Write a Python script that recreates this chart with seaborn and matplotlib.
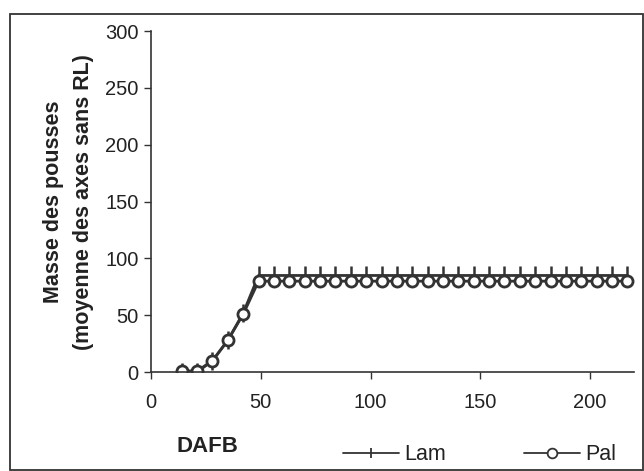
import numpy as np
import pandas as pd
import matplotlib
matplotlib.use("Agg")
import matplotlib.pyplot as plt
import seaborn as sns

# days after full bloom, sampled weekly
dafb = [14, 21, 28, 35, 42, 49, 56, 63, 70, 77, 84, 91, 98, 105, 112, 119, 126,
        133, 140, 147, 154, 161, 168, 175, 182, 189, 196, 203, 210, 217]
lam = [0, 0, 10, 28, 52, 85, 85, 85, 85, 85, 85, 85, 85, 85, 85, 85, 85,
       85, 85, 85, 85, 85, 85, 85, 85, 85, 85, 85, 85, 85]
pal = [1, 1, 10, 28, 51, 80, 80, 80, 80, 80, 80, 80, 80, 80, 80, 80, 80,
       80, 80, 80, 80, 80, 80, 80, 80, 80, 80, 80, 80, 80]

df = pd.DataFrame({"DAFB": dafb, "Lam": lam, "Pal": pal})

sns.set_style("white")
plt.rcParams["font.family"] = ["Liberation Sans", "DejaVu Sans"]

ink = "#333333"
fig = plt.figure(figsize=(6.44, 4.71), dpi=100)
ax = fig.add_axes([0.2345, 0.21, 0.75, 0.724])

sns.lineplot(data=df, x="DAFB", y="Lam", ax=ax, color=ink, lw=2,
             marker="|", markersize=13, markeredgewidth=1.8,
             markeredgecolor=ink, label="Lam")
sns.lineplot(data=df, x="DAFB", y="Pal", ax=ax, color=ink, lw=2,
             marker="o", markersize=8, markerfacecolor="white",
             markeredgecolor=ink, markeredgewidth=2, label="Pal")

ax.set_xlim(0, 220)
ax.set_ylim(0, 300)
ax.set_xticks([0, 50, 100, 150, 200])
ax.set_yticks([0, 50, 100, 150, 200, 250, 300])
ax.tick_params(axis="both", labelsize=14.5, direction="out", length=5, width=1,
               color=ink, labelcolor="#222222", left=True, bottom=True)
ax.tick_params(axis="x", pad=10)
ax.tick_params(axis="y", pad=4)
for s in ["top", "right"]:
    ax.spines[s].set_visible(False)
for s in ["left", "bottom"]:
    ax.spines[s].set_color(ink)
    ax.spines[s].set_linewidth(1.2)

ax.set_xlabel("")
ax.set_ylabel("Masse des pousses\n(moyenne des axes sans RL)", fontsize=15.5,
              fontweight="bold", color="#222222", labelpad=8, linespacing=1.55)
fig.text(0.322, 1 - 446 / 471, "DAFB", fontsize=16, fontweight="bold",
         color="#222222", ha="center", va="center")

ax.legend(loc="center", bbox_to_anchor=(0.745, 1 - 455 / 471),
          bbox_transform=fig.transFigure, ncol=2, frameon=False, fontsize=15.5,
          handlelength=2.6, columnspacing=3.6, handletextpad=0.25,
          labelcolor="#222222")
for h in ax.get_legend().legend_handles:
    h.set_linewidth(1.3)
    h.set_markersize(7)
    h.set_markeredgewidth(1.3)

fig.patches.append(plt.Rectangle((0.0155, 0.002), 0.983, 0.968,
                                 transform=fig.transFigure, fill=False,
                                 edgecolor=ink, lw=1.3))

fig.savefig("out.png", dpi=100)
